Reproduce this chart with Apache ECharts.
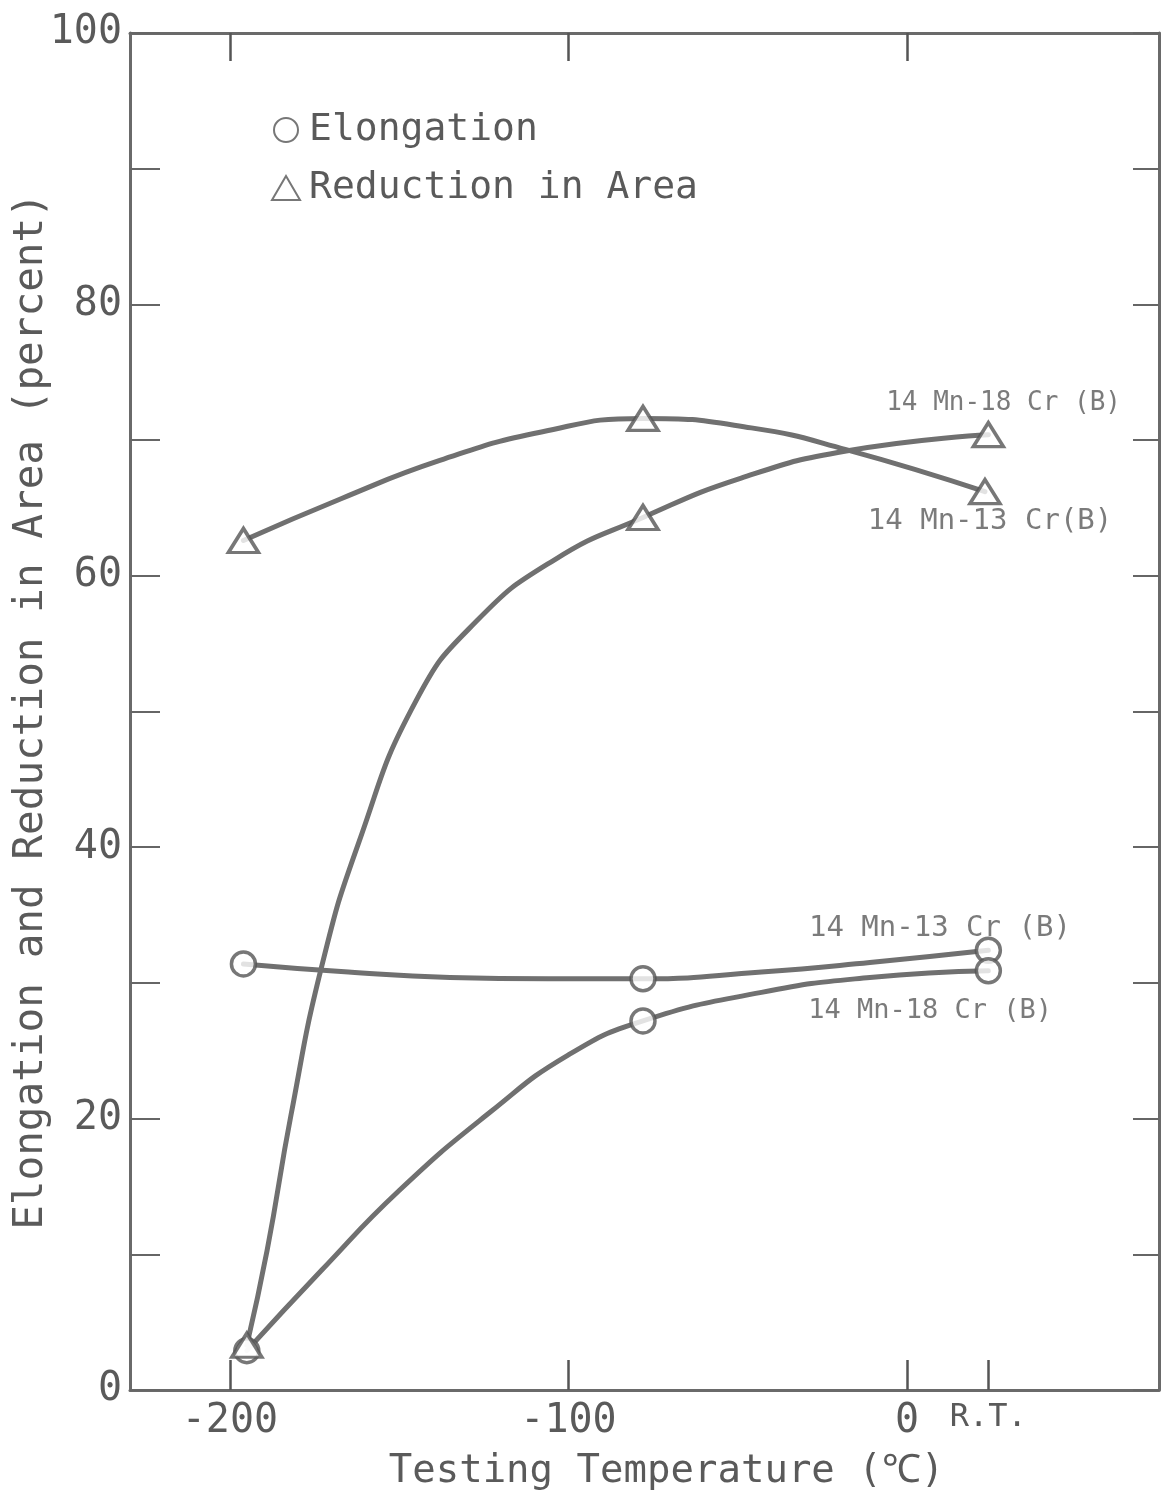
<!DOCTYPE html>
<html>
<head>
<meta charset="utf-8">
<script src="https://cdn.jsdelivr.net/npm/echarts@6/dist/echarts.min.js"></script>
<style>
html,body{margin:0;padding:0;background:#fff;}
#chart{width:1161px;height:1501px;}
</style>
</head>
<body>
<div id="chart"></div>
<script>
// ---- data ----
const xTickValues = [-200, -100, 0];
const roomTemp = 24;
const yTickLabels = [0, 20, 40, 60, 80, 100];

const elongCr13Markers = [[-196, 31.4], [-78, 30.3], [24, 32.4]];
const elongCr18Markers = [[-195, 2.9], [-78, 27.2], [24, 30.9]];
const raCr13Markers = [[-196, 62.6], [-78, 71.6], [23, 66.2]];
const raCr18Markers = [[-195, 3.3], [-78, 64.3], [24, 70.4]];

// drawn curves
const elongCr13Curve = [[-196, 31.4], [-165, 30.8], [-135, 30.4], [-106, 30.3], [-78, 30.3], [-43, 30.8], [-11, 31.5], [24, 32.4]];
const elongCr18Curve = [[-195, 2.9], [-173, 8.8], [-150, 14.7], [-123, 20.5], [-100, 24.7], [-78, 27.2], [-43, 29.3], [-11, 30.4], [24, 30.9]];
const raCr13Curve = [[-196, 62.6], [-167, 65.7], [-138, 68.5], [-108, 70.6], [-78, 71.6], [-46, 70.9], [-18, 69.3], [23, 66.2]];
const raCr18Curve = [[-195, 3.3], [-189, 10.3], [-182, 20.2], [-173, 31.1], [-162, 40.3], [-145, 50.8], [-127, 56.7], [-104, 61.2], [-78, 64.3], [-49, 67.2], [-18, 69.2], [24, 70.4]];

const curveLabels = [
  { name: '14 Mn-18 Cr (B)', value: [28.5, 72.7], size: 26 },
  { name: '14 Mn-13 Cr(B)', value: [24.5, 64.0], size: 29 },
  { name: '14 Mn-13 Cr (B)', value: [9.7, 34.0], size: 29 },
  { name: '14 Mn-18 Cr (B)', value: [6.8, 27.9], size: 27 }
];

const ink = '#5a5a5a';
const font = 'DejaVu Sans Mono';
const chart = echarts.init(document.getElementById('chart'), null, { renderer: 'canvas' });

const lineSeries = (data) => ({
  type: 'line', data: data, smooth: 0.5, showSymbol: false, symbol: 'none',
  lineStyle: { color: '#707070', width: 5, join: 'round', cap: 'round' }, z: 2, silent: true,
  xAxisIndex: 0, yAxisIndex: 0
});

chart.setOption({
  backgroundColor: '#ffffff',
  animation: false,
  grid: { left: 130, right: 2, top: 33, bottom: 111, containLabel: false, outerBoundsMode: 'none' },
  legend: {
    data: ['Elongation', 'Reduction in Area'],
    orient: 'vertical', left: 266, top: 106, itemGap: 20,
    itemWidth: 28, itemHeight: 24,
    textStyle: { fontFamily: font, fontSize: 38, color: ink, padding: [0, 0, 0, 4] },
    selectedMode: false
  },
  xAxis: [{
    type: 'value', min: -229.5, max: 74.4, position: 'bottom',
    axisLine: { show: true, onZero: false, lineStyle: { color: '#6a6a6a', width: 3 } },
    axisTick: { show: true, inside: true, length: 30, customValues: xTickValues.concat([roomTemp]), lineStyle: { color: '#555', width: 2.5 } },
    axisLabel: {
      customValues: xTickValues.concat([roomTemp]), margin: 12,
      fontFamily: font, fontSize: 40, color: ink,
      formatter: v => v === roomTemp ? '{rt|R.T.}' : String(v),
      rich: { rt: { fontFamily: font, fontSize: 32, color: ink } }
    },
    splitLine: { show: false },
    name: 'Testing Temperature (℃)', nameLocation: 'middle', nameGap: 62, nameMoveOverlap: false,
    nameTextStyle: { fontFamily: font, fontSize: 39, color: ink, padding: [0, 0, 0, 44] }
  }, {
    type: 'value', min: -229.5, max: 74.4, position: 'top',
    axisLine: { show: true, onZero: false, lineStyle: { color: '#6a6a6a', width: 3 } },
    axisTick: { show: true, inside: true, length: 28, customValues: xTickValues, lineStyle: { color: '#555', width: 2.5 } },
    axisLabel: { show: false }, splitLine: { show: false }
  }],
  yAxis: [{
    type: 'value', min: 0, max: 100, interval: 10, position: 'left',
    axisLine: { show: true, onZero: false, lineStyle: { color: '#6a6a6a', width: 3 } },
    axisTick: { show: true, inside: true, length: 30, lineStyle: { color: '#666', width: 2 } },
    axisLabel: {
      customValues: yTickLabels, margin: 8,
      fontFamily: font, fontSize: 40, color: ink
    },
    splitLine: { show: false },
    name: 'Elongation and Reduction in Area (percent)', nameLocation: 'middle', nameGap: 78,
    nameMoveOverlap: false, nameRotate: 90,
    nameTextStyle: { fontFamily: font, fontSize: 41, color: ink }
  }, {
    type: 'value', min: 0, max: 100, interval: 10, position: 'right',
    axisLine: { show: true, onZero: false, lineStyle: { color: '#6a6a6a', width: 3 } },
    axisTick: { show: true, inside: true, length: 26, lineStyle: { color: '#666', width: 2 } },
    axisLabel: { show: false }, splitLine: { show: false }
  }],
  series: [
    lineSeries(elongCr13Curve),
    lineSeries(elongCr18Curve),
    lineSeries(raCr13Curve),
    lineSeries(raCr18Curve),
    {
      name: 'Elongation', type: 'scatter', data: elongCr13Markers.concat(elongCr18Markers),
      symbol: 'circle', symbolSize: 24, z: 5,
      itemStyle: { color: '#ffffff', borderColor: '#555', borderWidth: 3.5 }
    },
    {
      name: 'Reduction in Area', type: 'scatter', data: raCr13Markers.concat(raCr18Markers),
      symbol: 'triangle', symbolSize: [30, 24], z: 5,
      itemStyle: { color: '#ffffff', borderColor: '#555', borderWidth: 3.5 }
    },
    {
      name: 'labels', type: 'scatter', symbolSize: 0, silent: true, z: 6,
      data: curveLabels.map(d => ({
        name: d.name, value: d.value,
        label: { fontSize: d.size }
      })),
      label: {
        show: true, position: 'inside', formatter: p => p.name,
        fontFamily: font, fontSize: 28, color: ink
      }
    }
  ]
});
</script>
</body>
</html>
